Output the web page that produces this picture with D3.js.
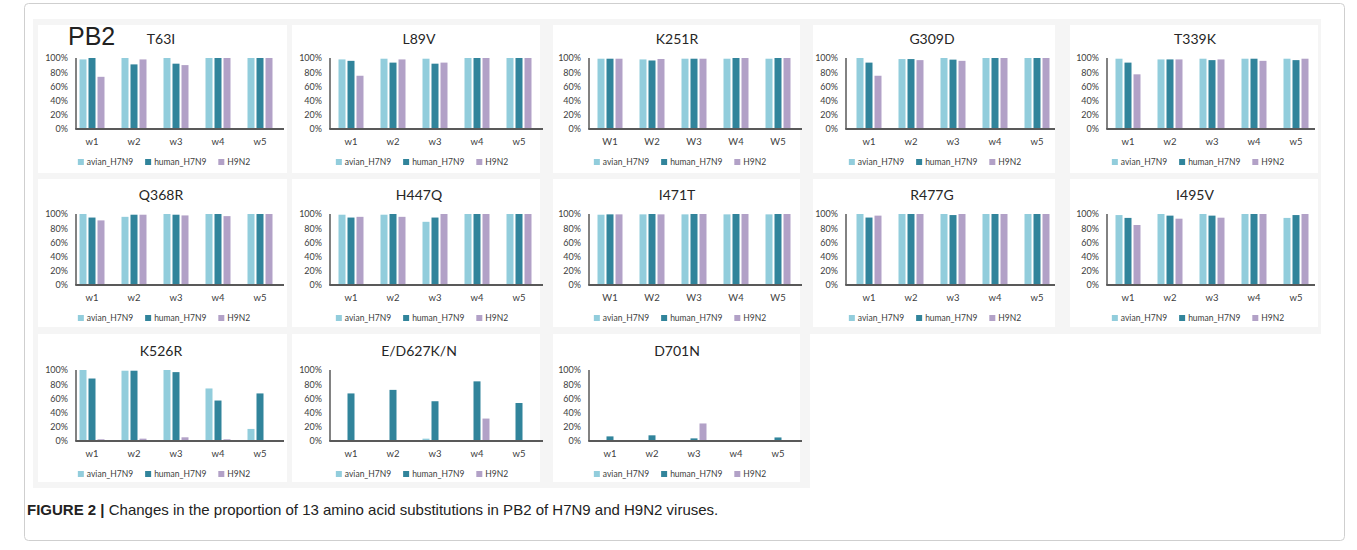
<!DOCTYPE html>
<html><head><meta charset="utf-8">
<script src="https://cdn.jsdelivr.net/npm/d3@7"></script>
<style>
html,body{margin:0;padding:0;background:#fff;}
svg{display:block;}
</style></head>
<body>
<svg id="chart" width="1357" height="550"></svg>
<script>
// ---------------- DATA ----------------
const weeksLower = ["w1", "w2", "w3", "w4", "w5"];
const weeksUpper = ["W1", "W2", "W3", "W4", "W5"];
const seriesNames = ["avian_H7N9", "human_H7N9", "H9N2"];
const panelTitles = ["T63I", "L89V", "K251R", "G309D", "T339K",
                     "Q368R", "H447Q", "I471T", "R477G", "I495V",
                     "K526R", "E/D627K/N", "D701N"];
const upperCaseWeeks = ["K251R", "I471T"];
// proportions (%) per panel, per week w1..w5
const avianH7N9 = [
  [98, 100, 100, 100, 100],
  [98, 99, 99, 100, 100],
  [99, 98, 99, 99, 99],
  [100, 98.5, 100, 100, 100],
  [99, 98, 99, 99, 99],
  [100, 96, 100, 100, 100],
  [99, 99, 89, 100, 100],
  [99, 99.5, 99.5, 99.5, 99.5],
  [100, 100, 100, 100, 100],
  [98.5, 100, 100, 100, 94.5],
  [100, 99, 100, 74, 17],
  [0, 0, 3.3, 0, 0],
  [0, 0, 0, 0, 0]
];
const humanH7N9 = [
  [100, 91, 92, 100, 100],
  [96, 93.5, 92, 100, 100],
  [99, 96.5, 99, 100, 100],
  [93.5, 98.5, 97.7, 100, 100],
  [93.5, 98, 97, 99, 97],
  [95, 99, 99, 100, 100],
  [95, 100, 95, 100, 100],
  [99.5, 100, 100, 100, 100],
  [95, 100, 98.5, 100, 100],
  [94.5, 97.7, 97.7, 100, 98.5],
  [88, 99, 97, 57, 67],
  [67, 72, 56, 84, 53.5],
  [6.5, 8, 3.7, 0, 5]
];
const h9n2 = [
  [73.5, 98, 90, 100, 100],
  [75, 98, 93.5, 100, 100],
  [99, 98.6, 99, 100, 100],
  [75, 97, 96, 100, 100],
  [77, 98, 98, 96, 99],
  [91, 99, 98, 97, 100],
  [96, 96, 100, 100, 100],
  [99.5, 99.5, 100, 100, 100],
  [97.7, 100, 100, 100, 100],
  [84.5, 93.4, 94.8, 100, 100],
  [2.4, 3.3, 5.2, 2.4, 0],
  [0, 0, 0, 31.6, 0],
  [0, 0, 24.7, 0, 0]
];
const yTicks = [0, 0.2, 0.4, 0.6, 0.8, 1.0];
const figureLabel = "PB2";
const captionBold = "FIGURE 2 |";
const captionText = " Changes in the proportion of 13 amino acid substitutions in PB2 of H7N9 and H9N2 viruses.";

// ---------------- LAYOUT ----------------
const colors = ["#92CDDC", "#31849B", "#B2A1C7"];
const colLeft   = [38, 292, 553, 813, 1070];
const colRight  = [287, 540, 800, 1055, 1318];
const colAxisX  = [76, 330, 589, 846, 1107];
const colFirstC = [92, 351, 610, 869, 1128];
const colAxisEnd= [284, 543, 802, 1055, 1315];
const colTitleX = [161, 419, 677, 932, 1195];
const rowTop    = [25, 179, 334];
const rowY0     = [129, 285, 441];
const panelH = 148;
const plotH = 71;
const groupStep = 42;

const svg = d3.select("#chart");
const chartFont = "Lato, 'Open Sans', sans-serif";

// outer frame
svg.append("rect").attr("x", 24.5).attr("y", 3.5).attr("width", 1320).attr("height", 537)
  .attr("rx", 4).attr("fill", "#fff").attr("stroke", "#cfcfcf").attr("stroke-width", 1);
// light strip behind the first row (figure top)
svg.append("rect").attr("x", 33).attr("y", 19).attr("width", 1288).attr("height", 315)
  .attr("fill", "#f5f5f5");
svg.append("rect").attr("x", 33).attr("y", 329).attr("width", 777).attr("height", 159)
  .attr("fill", "#f5f5f5");

panelTitles.forEach((title, i) => {
  const col = i % 5, row = Math.floor(i / 5);
  const g = svg.append("g");
  g.append("rect").attr("x", colLeft[col]).attr("y", rowTop[row])
    .attr("width", colRight[col] - colLeft[col]).attr("height", panelH).attr("fill", "#fff");

  const labels = upperCaseWeeks.includes(title) ? weeksUpper : weeksLower;
  const start = colFirstC[col] - groupStep / 2;
  const x = d3.scaleBand().domain(labels).range([start, start + groupStep * 5]).padding(0);
  const xInner = d3.scalePoint().domain(seriesNames).range([-9, 9]);
  const y0 = rowY0[row];
  const y = d3.scaleLinear().domain([0, 1]).range([y0, y0 - plotH]);

  const vals = [avianH7N9[i], humanH7N9[i], h9n2[i]];
  const data = [];
  labels.forEach((lab, k) => seriesNames.forEach((s, j) => data.push({lab, s, j, v: vals[j][k] / 100})));

  const barW = 7;
  g.selectAll("rect.bar").data(data.filter(d => d.v > 0)).join("rect")
    .attr("class", "bar")
    .attr("x", d => x(d.lab) + x.bandwidth() / 2 + xInner(d.s) - barW / 2)
    .attr("width", barW)
    .attr("y", d => y(d.v))
    .attr("height", d => y0 - y(d.v))
    .attr("fill", d => colors[d.j]);

  // y axis
  const yAxis = d3.axisLeft(y).tickValues(yTicks).tickFormat(d3.format(".0%")).tickSize(0).tickPadding(8);
  const ya = g.append("g").attr("transform", `translate(${colAxisX[col]},0)`).call(yAxis);
  ya.select(".domain").remove();
  ya.selectAll("text").attr("font-family", chartFont).attr("font-size", 9).attr("fill", "#404040");
  g.append("line").attr("x1", colAxisX[col]).attr("x2", colAxisX[col])
    .attr("y1", y(1)).attr("y2", y0).attr("stroke", "#595959").attr("stroke-width", 1.5);

  // x axis
  const xAxis = d3.axisBottom(x).tickSize(0).tickPadding(9);
  const xa = g.append("g").attr("transform", `translate(0,${y0})`).call(xAxis);
  xa.select(".domain").remove();
  xa.selectAll("text").attr("font-family", chartFont).attr("font-size", 9.5).attr("fill", "#404040");
  g.append("line").attr("x1", colAxisX[col] - 0.75).attr("x2", colAxisEnd[col])
    .attr("y1", y0).attr("y2", y0).attr("stroke", "#595959").attr("stroke-width", 2);

  // title
  g.append("text").attr("x", colTitleX[col]).attr("y", y(1) - 19).attr("dy", "0.35em")
    .attr("text-anchor", "middle").attr("font-family", chartFont).attr("font-size", 14)
    .attr("fill", "#262626").text(title);

  // legend
  const leg = g.append("g");
  let cx = 0;
  seriesNames.forEach((s, j) => {
    const it = leg.append("g").attr("transform", `translate(${cx},0)`);
    it.append("rect").attr("x", 0).attr("y", -3).attr("width", 6).attr("height", 6).attr("fill", colors[j]);
    const t = it.append("text").attr("x", 9).attr("y", 0).attr("dy", "0.35em")
      .attr("font-family", chartFont).attr("font-size", 8.5).attr("fill", "#404040").text(s);
    cx += 9 + t.node().getComputedTextLength() + 12;
  });
  const legW = cx - 12;
  leg.attr("transform", `translate(${colTitleX[col] + 3 - legW / 2},${y0 + 33})`);
});

// PB2 label
svg.append("text").attr("x", 68).attr("y", 45).attr("font-family", "'Liberation Sans', Arial, sans-serif")
  .attr("font-size", 25).attr("fill", "#222").text(figureLabel);

// caption
const cap = svg.append("text").attr("x", 27).attr("y", 515)
  .attr("font-family", "'Liberation Sans', Arial, sans-serif").attr("font-size", 15).attr("fill", "#222");
cap.append("tspan").attr("font-weight", "bold").text(captionBold);
cap.append("tspan").text(captionText);
</script>
</body></html>
